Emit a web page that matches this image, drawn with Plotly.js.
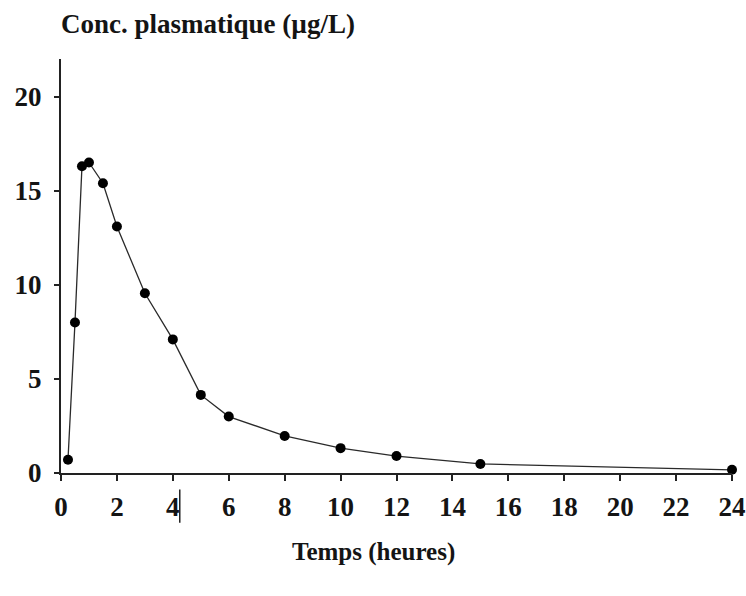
<!DOCTYPE html>
<html>
<head>
<meta charset="utf-8">
<script src="https://cdn.plot.ly/plotly-3.0.1.min.js"></script>
<style>html,body{margin:0;padding:0;background:#fff;}#chart{width:746px;height:596px;}</style>
</head>
<body>
<div id="chart"></div>
<script>
const timeHours = [0.25, 0.5, 0.75, 1, 1.5, 2, 3, 4, 5, 6, 8, 10, 12, 15, 24];
const concentration = [0.7, 8.0, 16.3, 16.5, 15.4, 13.1, 9.55, 7.1, 4.15, 3.0, 1.97, 1.32, 0.9, 0.48, 0.17];
const xTicks = [0, 2, 4, 6, 8, 10, 12, 14, 16, 18, 20, 22, 24];
const yTicks = [0, 5, 10, 15, 20];
const titleText = 'Conc. plasmatique (µg/L)';
const xTitleText = 'Temps (heures)';

const fontFamily = '"Liberation Serif", "Times New Roman", serif';
const textColor = '#141414';

const trace = {
  x: timeHours,
  y: concentration,
  type: 'scatter',
  mode: 'lines+markers',
  line: {color: '#2a2a2a', width: 1.3},
  marker: {color: '#000', size: 10},
  cliponaxis: false,
  hoverinfo: 'x+y'
};

const layout = {
  width: 746,
  height: 596,
  margin: {l: 61, r: 14, t: 59, b: 123},
  paper_bgcolor: '#fff',
  plot_bgcolor: '#fff',
  showlegend: false,
  font: {family: fontFamily, color: textColor, size: 27, weight: 700},
  title: {
    text: titleText,
    font: {family: fontFamily, size: 27, color: textColor, weight: 700},
    xref: 'container', yref: 'container',
    x: 208 / 746, xanchor: 'center',
    y: 1 - 24 / 596, yanchor: 'middle'
  },
  xaxis: {
    range: [0, 24],
    tickvals: xTicks,
    ticktext: xTicks.map(String),
    showgrid: false,
    zeroline: false,
    showline: true,
    linecolor: '#222',
    linewidth: 2,
    ticks: 'outside',
    ticklen: 6,
    tickwidth: 2,
    tickcolor: '#222',
    ticklabelstandoff: 3,
    tickfont: {family: fontFamily, size: 27, color: textColor, weight: 700}
  },
  yaxis: {
    range: [0, 22],
    tickvals: yTicks,
    ticktext: yTicks.map(String),
    showgrid: false,
    zeroline: false,
    showline: true,
    linecolor: '#222',
    linewidth: 2,
    ticks: 'outside',
    ticklen: 5,
    tickwidth: 2,
    tickcolor: '#222',
    ticklabelstandoff: 7,
    tickfont: {family: fontFamily, size: 27, color: textColor, weight: 700}
  },
  annotations: [
    {text: xTitleText, xref: 'paper', yref: 'paper',
     x: (373 - 61) / 671, xanchor: 'center',
     y: (473 - 552) / 414, yanchor: 'middle',
     showarrow: false,
     font: {family: fontFamily, size: 25, color: textColor, weight: 700}}
  ],
  shapes: [
    {type: 'line', xref: 'paper', yref: 'paper', x0: -0.009, x1: 0, y0: 0, y1: 0,
     line: {color: '#222', width: 2}},
    {type: 'line', xref: 'paper', yref: 'paper', x0: 0.177, x1: 0.177, y0: -0.04, y1: -0.12,
     line: {color: '#222', width: 1.5}}
  ]
};

Plotly.newPlot('chart', [trace], layout, {displayModeBar: false, staticPlot: true});
</script>
</body>
</html>
